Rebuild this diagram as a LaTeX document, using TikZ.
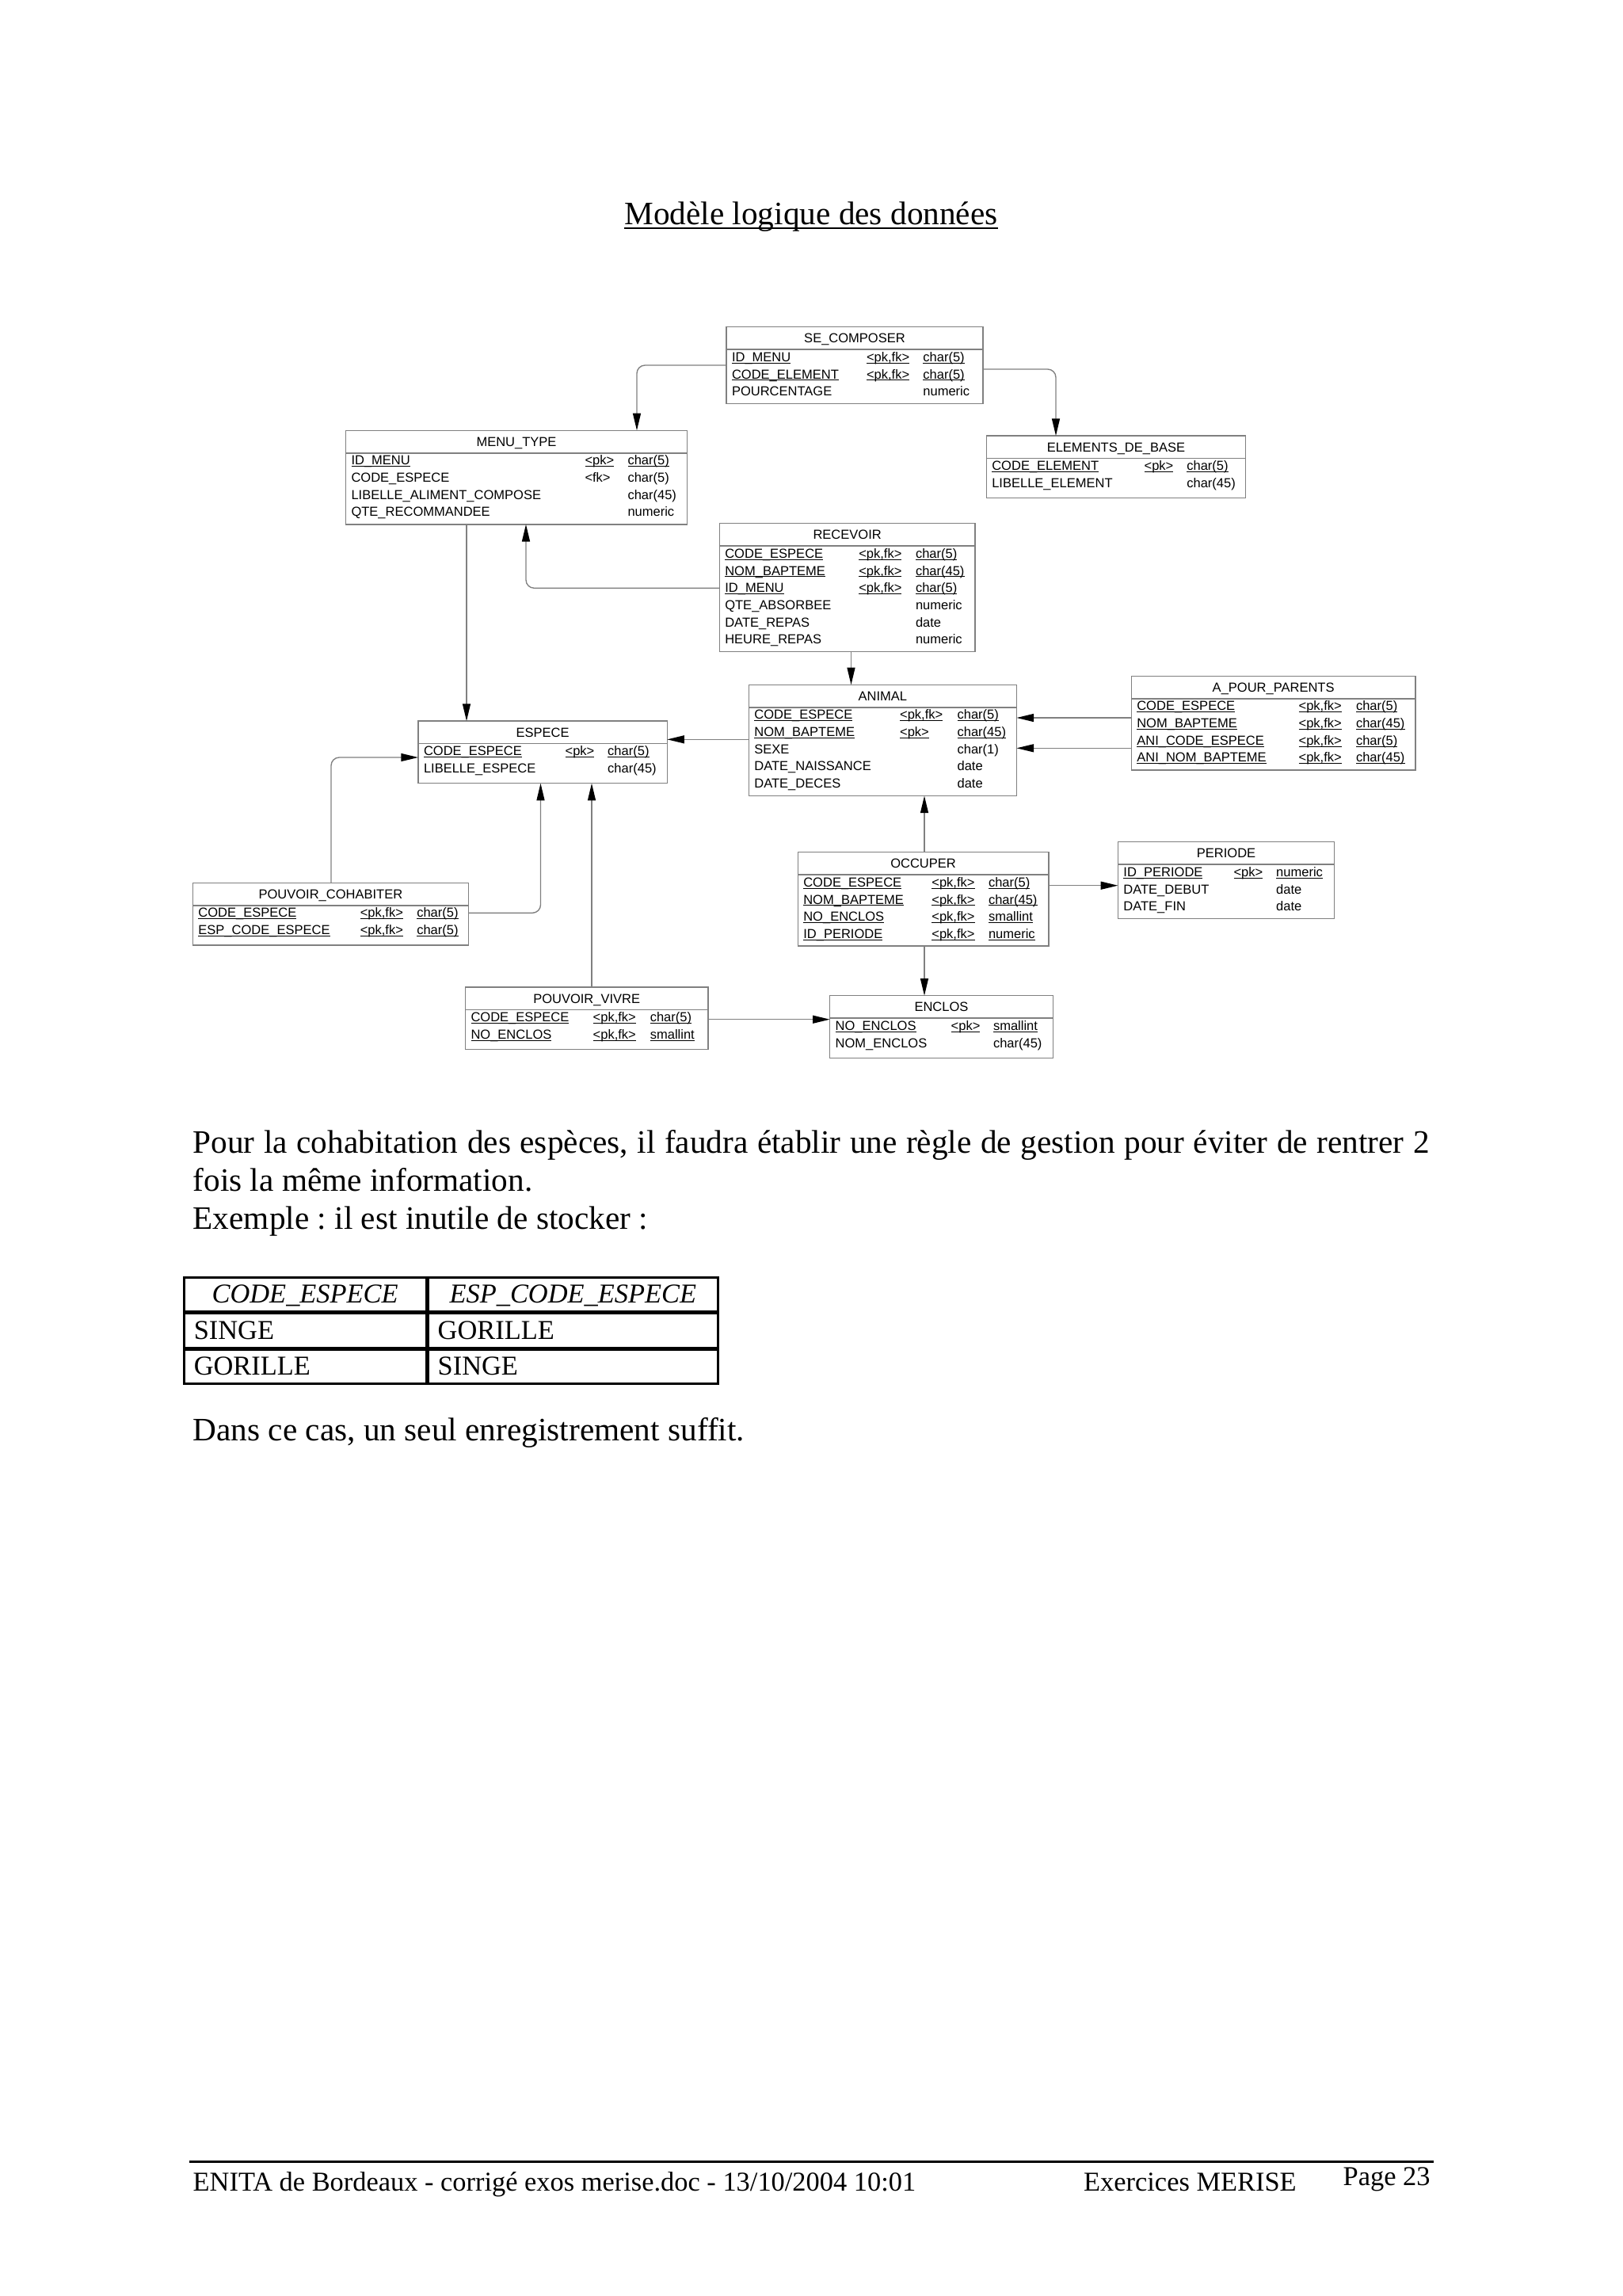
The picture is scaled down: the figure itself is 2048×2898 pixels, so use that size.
\documentclass[tikz,border=0pt]{standalone}
\usepackage{fontspec}
\setmainfont{Liberation Serif}
\newfontfamily\arialfont{Liberation Sans}
\usetikzlibrary{shapes.multipart,arrows.meta,matrix}
\definecolor{linegray}{RGB}{128,128,128}
\frenchspacing
\newlength\px
\setlength\px{0.290662pt}
\newcommand\erfont{\arialfont\fontsize{4.8pt}{6.3pt}\selectfont}
\newcommand\keyu[1]{\setbox0\hbox{#1}\leavevmode\rlap{\rule[-0.7pt]{\wd0}{0.3pt}}\box0}
\newcommand\wordul[1]{\setbox0\hbox{#1}\leavevmode\rlap{\rule[-1.75pt]{\wd0}{0.6pt}}\box0}
\newcommand\hstrut{\rule[-1.45pt]{0pt}{6.35pt}}
\newcommand\xpad{\rule[-2.9pt]{0pt}{0pt}}
\newcommand\attrs[4]{\erfont\raisebox{0pt}[\dimexpr\height-1pt\relax][\depth]{%
    \begin{tabular}{@{}p{#1\px}@{}p{#2\px}@{}p{#3\px}@{}}#4\end{tabular}}}
\tikzset{
  entity/.style={
    rectangle split, rectangle split parts=2, draw=linegray, line width=0.45pt,
    inner xsep=7\px, inner ysep=0.75pt, outer sep=0pt, anchor=north west,
    font=\erfont},
  fk/.style={draw=linegray, line width=0.4pt, rounded corners=3pt,
    -{Triangle[length=6.3pt,width=2.9pt,color=black,fill=black]}},
  body/.style={inner sep=0pt, anchor=base west, font=\fontsize{12pt}{14pt}\selectfont},
  foot/.style={inner sep=0pt, anchor=base west, font=\fontsize{10pt}{12pt}\selectfont},
  exhead/.style={align=center, font=\fontsize{10pt}{12pt}\selectfont\itshape}
}

\begin{document}
\begin{tikzpicture}[x=\px,y=-\px]
    \useasboundingbox (0,0) rectangle (2048,2898);
    \node[body,anchor=base] (title) at (1024,283.3) {\wordul{Modèle logique des données}};

    % tables
    \node[entity] (secomposer) at (917,412.7) {\hstrut SE\_COMPOSER\nodepart{two}\attrs{170}{71.4}{68.6}{
        \keyu{ID\_MENU} & \keyu{<pk,fk>} & \keyu{char(5)}\\
        \keyu{CODE\_ELEMENT} & \keyu{<pk,fk>} & \keyu{char(5)}\\
        POURCENTAGE & & numeric}};
    \node[entity] (menutype) at (436.5,543.3) {\hstrut MENU\_TYPE\nodepart{two}\attrs{295}{54}{68}{
        \keyu{ID\_MENU} & \keyu{<pk>} & \keyu{char(5)}\\
        CODE\_ESPECE & <fk> & char(5)\\
        LIBELLE\_ALIMENT\_COMPOSE & & char(45)\\
        QTE\_RECOMMANDEE & & numeric}};
    \node[entity] (elements) at (1245.3,550) {\hstrut ELEMENTS\_DE\_BASE\nodepart{two}\attrs{192.3}{53.7}{67.3}{
        \keyu{CODE\_ELEMENT} & \keyu{<pk>} & \keyu{char(5)}\\
        LIBELLE\_ELEMENT & & char(45)\xpad}};
    \node[entity] (recevoir) at (908.3,660.7) {\hstrut RECEVOIR\nodepart{two}\attrs{169}{71.7}{68}{
        \keyu{CODE\_ESPECE} & \keyu{<pk,fk>} & \keyu{char(5)}\\
        \keyu{NOM\_BAPTEME} & \keyu{<pk,fk>} & \keyu{char(45)}\\
        \keyu{ID\_MENU} & \keyu{<pk,fk>} & \keyu{char(5)}\\
        QTE\_ABSORBEE & & numeric\\
        DATE\_REPAS & & date\\
        HEURE\_REPAS & & numeric}};
    \node[entity] (espece) at (528,910) {\hstrut ESPECE\nodepart{two}\attrs{178.6}{53.6}{68.1}{
        \keyu{CODE\_ESPECE} & \keyu{<pk>} & \keyu{char(5)}\\
        LIBELLE\_ESPECE & & char(45)\xpad}};
    \node[entity] (animal) at (945.4,864.3) {\hstrut ANIMAL\nodepart{two}\attrs{183.7}{72.5}{67.8}{
        \keyu{CODE\_ESPECE} & \keyu{<pk,fk>} & \keyu{char(5)}\\
        \keyu{NOM\_BAPTEME} & \keyu{<pk>} & \keyu{char(45)}\\
        SEXE & & char(1)\\
        DATE\_NAISSANCE & & date\\
        DATE\_DECES & & date}};
    \node[entity] (parents) at (1428.3,853.3) {\hstrut A\_POUR\_PARENTS\nodepart{two}\attrs{204.3}{72.4}{68}{
        \keyu{CODE\_ESPECE} & \keyu{<pk,fk>} & \keyu{char(5)}\\
        \keyu{NOM\_BAPTEME} & \keyu{<pk,fk>} & \keyu{char(45)}\\
        \keyu{ANI\_CODE\_ESPECE} & \keyu{<pk,fk>} & \keyu{char(5)}\\
        \keyu{ANI\_NOM\_BAPTEME} & \keyu{<pk,fk>} & \keyu{char(45)}}};
    \node[entity] (cohabiter) at (243.4,1114.3) {\hstrut POUVOIR\_COHABITER\nodepart{two}\attrs{204.4}{71.5}{58.1}{
        \keyu{CODE\_ESPECE} & \keyu{<pk,fk>} & \keyu{char(5)}\\
        \keyu{ESP\_CODE\_ESPECE} & \keyu{<pk,fk>} & \keyu{char(5)}\xpad}};
    \node[entity] (occuper) at (1007.3,1075.7) {\hstrut OCCUPER\nodepart{two}\attrs{162.1}{71.6}{68.8}{
        \keyu{CODE\_ESPECE} & \keyu{<pk,fk>} & \keyu{char(5)}\\
        \keyu{NOM\_BAPTEME} & \keyu{<pk,fk>} & \keyu{char(45)}\\
        \keyu{NO\_ENCLOS} & \keyu{<pk,fk>} & \keyu{smallint}\\
        \keyu{ID\_PERIODE} & \keyu{<pk,fk>} & \keyu{numeric}}};
    \node[entity] (periode) at (1411.4,1062.7) {\hstrut PERIODE\nodepart{two}\attrs{139.1}{53.7}{66.5}{
        \keyu{ID\_PERIODE} & \keyu{<pk>} & \keyu{numeric}\\
        DATE\_DEBUT & & date\\
        DATE\_FIN & & date}};
    \node[entity] (enclos) at (1047.7,1256.7) {\hstrut ENCLOS\nodepart{two}\attrs{146}{53.3}{68.3}{
        \keyu{NO\_ENCLOS} & \keyu{<pk>} & \keyu{smallint}\\
        NOM\_ENCLOS & & char(45)\xpad}};
    \node[entity] (vivre) at (587.5,1246) {\hstrut POUVOIR\_VIVRE\nodepart{two}\attrs{154.2}{72.1}{66.1}{
        \keyu{CODE\_ESPECE} & \keyu{<pk,fk>} & \keyu{char(5)}\\
        \keyu{NO\_ENCLOS} & \keyu{<pk,fk>} & \keyu{smallint}\xpad}};

    % references
    \draw[fk] (secomposer.west |- 0,461) -| (menutype.north -| 804,0);
    \draw[fk] (secomposer.east |- 0,466) -| (elements.north -| 1333,0);
    \draw[fk] (recevoir.west |- 0,742.3) -| (menutype.south -| 664,0);
    \draw[fk] (menutype.south -| 589,0) -- (espece.north -| 589,0);
    \draw[fk] (recevoir.south -| 1074.5,0) -- (animal.north -| 1074.5,0);
    \draw[fk] (animal.west |- 0,933.3) -- (espece.east |- 0,933.3);
    \draw[fk] (parents.west |- 0,906) -- (animal.east |- 0,906);
    \draw[fk] (parents.west |- 0,944.3) -- (animal.east |- 0,944.3);
    \draw[fk] (cohabiter.north -| 418,0) |- (espece.west |- 0,956);
    \draw[fk] (cohabiter.east |- 0,1152.3) -| (espece.south -| 682.5,0);
    \draw[fk] (vivre.north -| 747,0) -- (espece.south -| 747,0);
    \draw[fk] (vivre.east |- 0,1286.7) -- (enclos.west |- 0,1286.7);
    \draw[fk] (occuper.north -| 1167,0) -- (animal.south -| 1167,0);
    \draw[fk] (occuper.east |- 0,1117.7) -- (periode.west |- 0,1117.7);
    \draw[fk] (occuper.south -| 1167,0) -- (enclos.north -| 1167,0);

    % text below
    \node[body] (para1) at (243,1455) {\makebox[1561\px][s]{Pour la cohabitation des espèces, il faudra établir une règle de gestion pour éviter de rentrer 2}};
    \node[body] (para2) at (243,1503.3) {fois la même information.};
    \node[body] (para3) at (243,1551.7) {Exemple : il est inutile de stocker :};
    \matrix (ex) [matrix of nodes, anchor=north west, inner sep=0pt, column sep=0pt, row sep=0pt,
        nodes={draw, line width=0.7pt, outer sep=0pt, inner ysep=0pt, inner xsep=3.6pt,
            minimum height=12.5pt, text height=8.5pt, text depth=2.3pt, align=left,
            font=\fontsize{10pt}{12pt}\selectfont},
        column 1/.style={nodes={text width=81.6pt}},
        column 2/.style={nodes={text width=99.2pt}}] at (230.5,1610.7) {
        |[exhead]| CODE\_ESPECE & |[exhead]| ESP\_CODE\_ESPECE \\
        SINGE & GORILLE \\
        GORILLE & SINGE \\
    };
    \node[body] (para4) at (243,1818.3) {Dans ce cas, un seul enregistrement suffit.};

    % footer
    \draw[line width=0.8pt] (238.8,2728.3) -- (1810,2728.3);
    \node[foot] (source) at (243,2765) {ENITA de Bordeaux - corrigé exos merise.doc - 13/10/2004 10:01};
    \node[foot] (course) at (1367.5,2765) {Exercices MERISE};
    \node[foot] (page) at (1695,2758.3) {Page 23};
\end{tikzpicture}
\end{document}
